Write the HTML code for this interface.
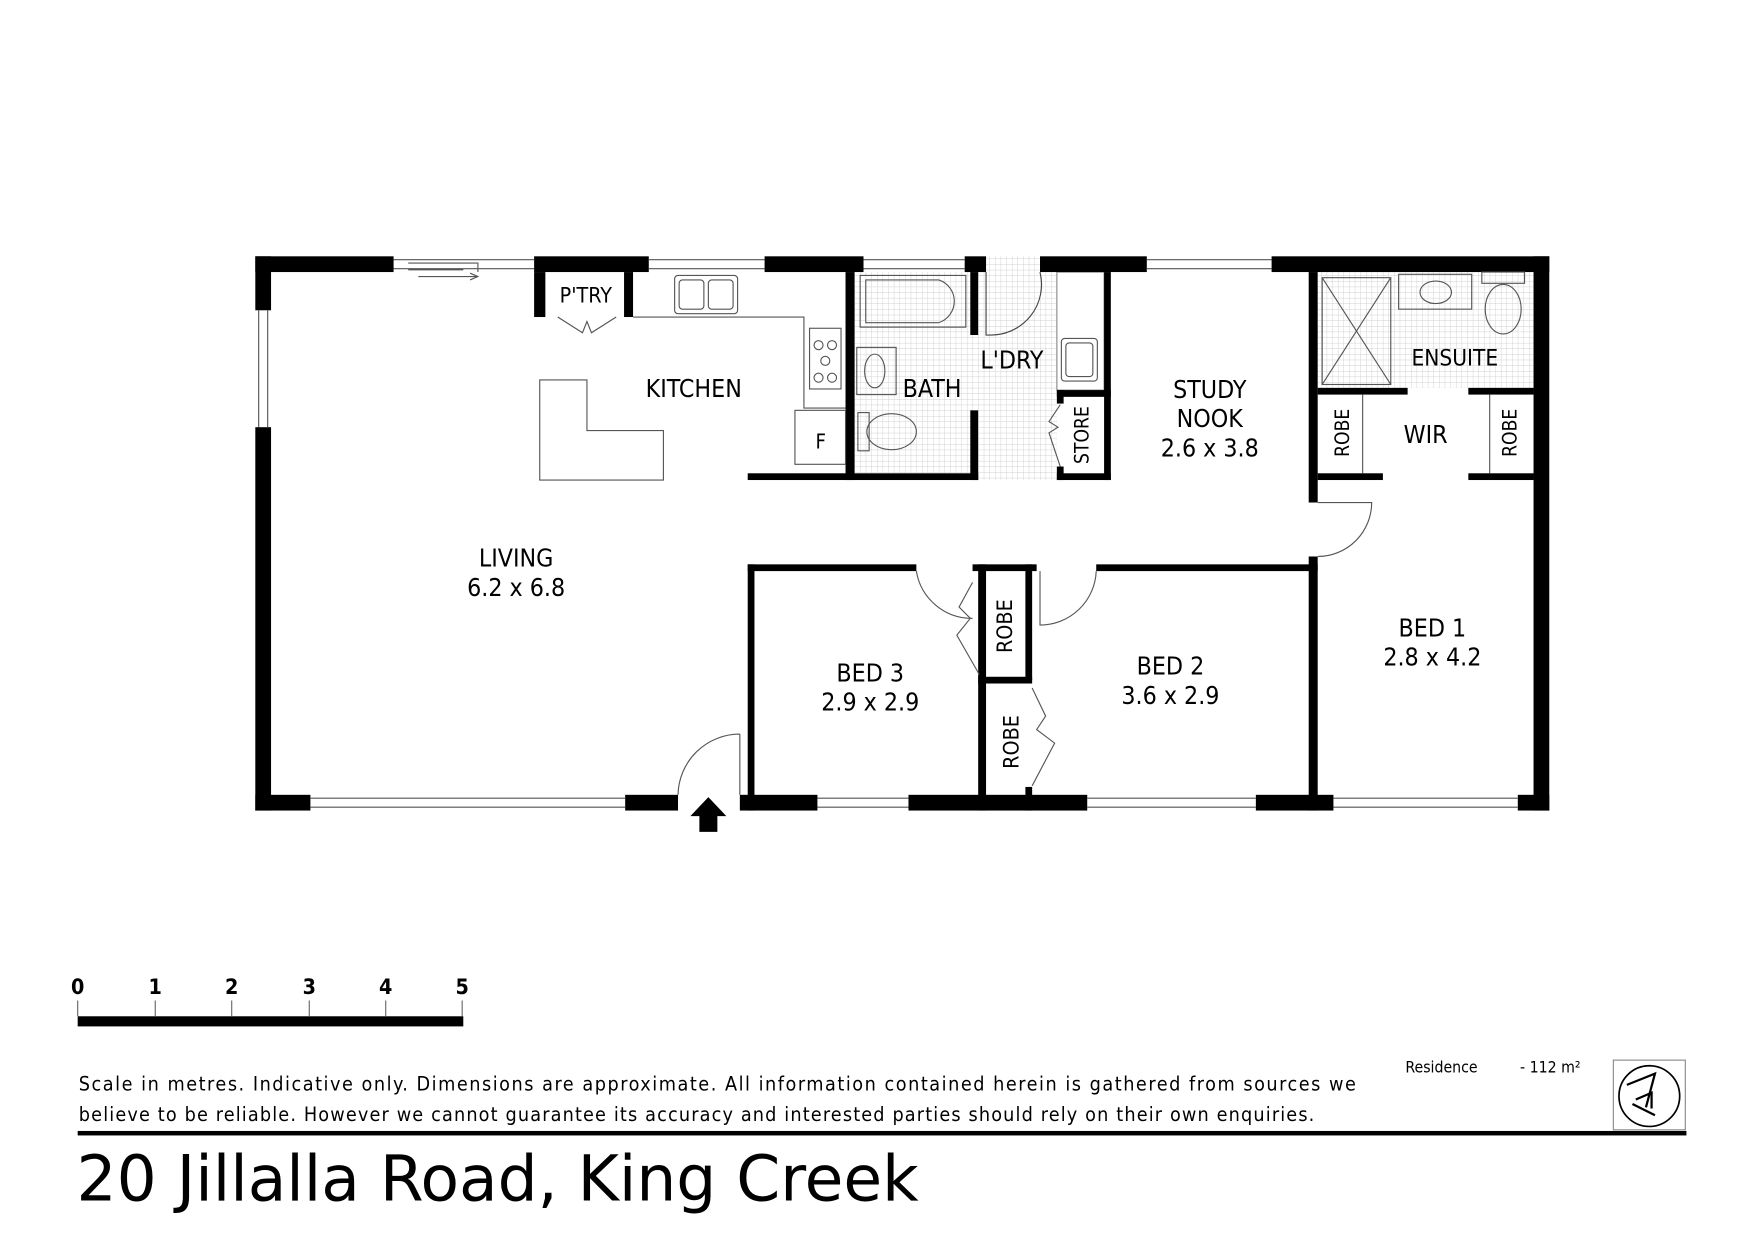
<!DOCTYPE html>
<html><head><meta charset="utf-8"><style>
html,body{margin:0;padding:0;background:#fff;}
svg{display:block;}
text{font-family:"DejaVu Sans Condensed","DejaVu Sans","Liberation Sans",sans-serif;fill:#000;}
</style></head><body>
<svg width="1754" height="1240" viewBox="0 0 1560 1103" xmlns="http://www.w3.org/2000/svg">
<defs>
<pattern id="tile" width="5" height="5" patternUnits="userSpaceOnUse">
<rect width="5" height="5" fill="#fff"/>
<path d="M0 0H5M0 0V5" stroke="#cfcfcf" stroke-width="0.8"/>
</pattern>
</defs>
<rect width="1560" height="1103" fill="#fff"/>
<rect x="760" y="242" width="180" height="185" fill="url(#tile)"/>
<rect x="877" y="228" width="48" height="14" fill="url(#tile)"/>
<rect x="1172" y="242" width="192" height="103" fill="url(#tile)"/>
<rect x="940" y="242" width="42" height="105" fill="#fff" stroke="#888" stroke-width="1"/>

<g fill="#000">
<rect x="227" y="228" width="123" height="14"/>
<rect x="475" y="228" width="102" height="14"/>
<rect x="680" y="228" width="88" height="14"/>
<rect x="858" y="228" width="19" height="14"/>
<rect x="925" y="228" width="95" height="14"/>
<rect x="1131" y="228" width="247" height="14"/>
<rect x="227" y="228" width="14" height="48"/>
<rect x="227" y="380" width="14" height="341"/>
<rect x="1364" y="228" width="14" height="493"/>
<rect x="227" y="707" width="49" height="14"/>
<rect x="556" y="707" width="47" height="14"/>
<rect x="658" y="707" width="69" height="14"/>
<rect x="808" y="707" width="159" height="14"/>
<rect x="1117" y="707" width="69" height="14"/>
<rect x="1350" y="707" width="28" height="14"/>
<rect x="665" y="421" width="205" height="6"/>
<rect x="940" y="421" width="48" height="6"/>
<rect x="752" y="242" width="8" height="185"/>
<rect x="863" y="242" width="7" height="56"/>
<rect x="863" y="365" width="7" height="62"/>
<rect x="940" y="347" width="48" height="6"/>
<rect x="940" y="347" width="6" height="12"/>
<rect x="940" y="415" width="6" height="12"/>
<rect x="982" y="242" width="6" height="185"/>
<rect x="1164" y="242" width="8" height="205"/>
<rect x="1164" y="495" width="8" height="226"/>
<rect x="1172" y="345" width="80" height="6"/>
<rect x="1306" y="345" width="58" height="6"/>
<rect x="1172" y="421" width="58" height="6"/>
<rect x="1306" y="421" width="58" height="6"/>
<rect x="665" y="502" width="150" height="6"/>
<rect x="865" y="502" width="57" height="6"/>
<rect x="975" y="502" width="197" height="6"/>
<rect x="665" y="502" width="6" height="219"/>
<rect x="870" y="502" width="7" height="219"/>
<rect x="912" y="502" width="6" height="103"/>
<rect x="870" y="602" width="48" height="6"/>
<rect x="912" y="700" width="6" height="21"/>
<rect x="475" y="242" width="10" height="40"/>
<rect x="555" y="242" width="8" height="40"/>
<path d="M622 740h16v-14h8l-16-17-16 17h8z"/>
</g>

<g fill="none" stroke="#555" stroke-width="1">
<path d="M577 231H680M577 239H680M768 231H858M768 239H858M1020 231H1131M1020 239H1131"/>
<path d="M230 276V380M238 276V380"/>
<path d="M276 710H556M276 718H556M727 710H808M727 718H808M967 710H1117M967 718H1117M1186 710H1350M1186 718H1350"/>
<path d="M350 231H475M350 239H475M363 234H425V242M363 240H412"/>
<path d="M372 246H425M418 243l7 3-7 3"/>
<path d="M658 707V653M658 653A55 55 0 0 0 603 707"/>
<path d="M563 282H715V363H752M715 290V348"/>
<rect x="600" y="245" width="56" height="34" rx="3"/>
<rect x="604" y="249" width="22" height="26" rx="3"/>
<rect x="630" y="249" width="22" height="26" rx="3"/>
<rect x="720" y="292" width="28" height="54"/>
<circle cx="728" cy="307" r="4"/><circle cx="740" cy="307" r="4"/><circle cx="734" cy="321" r="4"/><circle cx="728" cy="336" r="4"/><circle cx="740" cy="336" r="4"/>
<rect x="707" y="365" width="45" height="48"/>
<path d="M480 338H522V383H590V427H480Z"/>
<path d="M496 282l22 14 4-10 4 10 22-14"/>
<rect x="765" y="245" width="94" height="46"/>
<path d="M770 249H835A20 20 0 0 1 835 287H770Z"/>
<rect x="762" y="309" width="35" height="42"/>
<ellipse cx="778" cy="330" rx="9" ry="15"/>
<rect x="763" y="367" width="10" height="34"/>
<ellipse cx="793" cy="384" rx="22" ry="16"/>
<path d="M877 242V298H880A45 45 0 0 0 925 242" stroke="#444"/>
<rect x="944" y="301" width="32" height="38" rx="3"/>
<rect x="948" y="305" width="24" height="30" rx="3"/>
<path d="M943 360l-10 15 8 5-8 5 10 30"/>
<rect x="1176" y="247" width="61" height="95"/>
<path d="M1176 247L1237 342M1237 247L1176 342"/>
<rect x="1244" y="244" width="65" height="31"/>
<ellipse cx="1277" cy="260" rx="14" ry="10"/>
<rect x="1318" y="242" width="38" height="10"/>
<ellipse cx="1337" cy="275" rx="16" ry="22"/>
<path d="M1212 351V421M1325 351V421"/>
<path d="M1172 447H1220A48 48 0 0 1 1172 495"/>
<path d="M815 508A50 50 0 0 0 865 550"/>
<path d="M975 508A50 50 0 0 1 925 556V508"/>
<path d="M865 518l-12 22 10 10-12 15 20 35"/>
<path d="M918 612l12 25-8 12 16 12-20 38"/>
</g>

<g font-size="22" text-anchor="middle">
<text x="521" y="269" font-size="19">P'TRY</text>
<text x="617" y="353">KITCHEN</text>
<text x="730" y="399" font-size="18">F</text>
<text x="829" y="353">BATH</text>
<text x="900" y="328">L'DRY</text>
<text x="1076" y="354">STUDY</text>
<text x="1076" y="380">NOOK</text>
<text x="1076" y="406">2.6 x 3.8</text>
<text x="1294" y="325" font-size="20">ENSUITE</text>
<text x="1268" y="394">WIR</text>
<text x="459" y="504">LIVING</text>
<text x="459" y="530">6.2 x 6.8</text>
<text x="774" y="606">BED 3</text>
<text x="774" y="632">2.9 x 2.9</text>
<text x="1041" y="600">BED 2</text>
<text x="1041" y="626">3.6 x 2.9</text>
<text x="1274" y="566">BED 1</text>
<text x="1274" y="592">2.8 x 4.2</text>
<text transform="translate(968,387) rotate(-90)" font-size="17">STORE</text>
<text transform="translate(1200,385) rotate(-90)" font-size="17">ROBE</text>
<text transform="translate(1349,385) rotate(-90)" font-size="17">ROBE</text>
<text transform="translate(900,557) rotate(-90)" font-size="19">ROBE</text>
<text transform="translate(906,660) rotate(-90)" font-size="19">ROBE</text>
</g>

<g font-size="19" font-weight="bold" text-anchor="middle">
<text x="69" y="884">0</text><text x="138" y="884">1</text><text x="206" y="884">2</text><text x="275" y="884">3</text><text x="343" y="884">4</text><text x="411" y="884">5</text>
</g>
<rect x="69" y="904" width="343" height="9" fill="#000"/>
<path d="M69 890V904M138 890V904M206 890V904M275 890V904M343 890V904M411 890V904" stroke="#666" stroke-width="1"/>

<g font-size="17.5">
<text x="70" y="970" textLength="1136" lengthAdjust="spacing">Scale in metres. Indicative only. Dimensions are approximate.  All information contained herein is gathered from sources we</text>
<text x="70" y="997" textLength="1099" lengthAdjust="spacing">believe to be reliable. However we cannot guarantee its accuracy and interested parties should rely on their own enquiries.</text>
</g>
<text x="1250" y="954" font-size="14">Residence</text>
<text x="1352" y="954" font-size="14">-  112 m²</text>
<rect x="1435" y="943" width="64" height="62" fill="none" stroke="#888"/>
<circle cx="1467" cy="975" r="27" fill="none" stroke="#000" stroke-width="1.5"/>
<path d="M1447 965l25-10-8 30M1452 982l20 10M1455 978l14-6v14" fill="none" stroke="#000" stroke-width="2"/>
<rect x="69" y="1006" width="1431" height="4" fill="#000"/>
<text x="68" y="1068" font-size="56" textLength="749" lengthAdjust="spacingAndGlyphs">20 Jillalla Road, King Creek</text>
</svg>
</body></html>
